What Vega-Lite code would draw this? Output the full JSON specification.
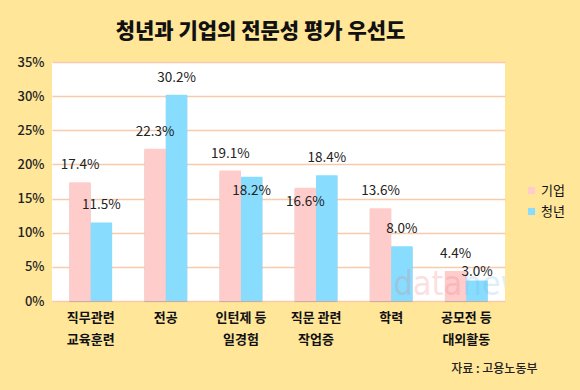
{
  "$schema": "https://vega.github.io/schema/vega-lite/v6.json",
  "width": 453,
  "height": 239,
  "autosize": "none",
  "padding": {"left": 52, "top": 62, "right": 75, "bottom": 89},
  "background": "#FFE699",
  "title": {
    "text": "청년과 기업의 전문성 평가 우선도",
    "font": "Noto Sans CJK KR",
    "fontSize": 21,
    "fontWeight": 900,
    "color": "#111111",
    "anchor": "middle",
    "dx": -18,
    "offset": 14
  },
  "config": {
    "view": {"fill": "#FFFFFF", "stroke": null},
    "font": "Noto Sans CJK KR"
  },
  "datasets": {
    "main": [
      {"category": "직무관련|교육훈련", "group": "기업", "value": 17.4},
      {"category": "직무관련|교육훈련", "group": "청년", "value": 11.5},
      {"category": "전공", "group": "기업", "value": 22.3},
      {"category": "전공", "group": "청년", "value": 30.2},
      {"category": "인턴제 등|일경험", "group": "기업", "value": 19.1},
      {"category": "인턴제 등|일경험", "group": "청년", "value": 18.2},
      {"category": "직문 관련|작업증", "group": "기업", "value": 16.6},
      {"category": "직문 관련|작업증", "group": "청년", "value": 18.4},
      {"category": "학력", "group": "기업", "value": 13.6},
      {"category": "학력", "group": "청년", "value": 8.0},
      {"category": "공모전 등|대외활동", "group": "기업", "value": 4.4},
      {"category": "공모전 등|대외활동", "group": "청년", "value": 3.0}
    ],
    "mark": [
      {"category": "공모전 등|대외활동", "part": "data", "value": 0},
      {"category": "공모전 등|대외활동", "part": "news", "value": 0}
    ]
  },
  "data": {"name": "main"},
  "encoding": {
    "x": {
      "field": "category",
      "type": "nominal",
      "sort": null,
      "scale": {"paddingInner": 0.43, "paddingOuter": 0.23},
      "axis": {
        "title": "자료 :  고용노동부",
        "titleFont": "Noto Sans CJK KR",
        "titleFontSize": 12,
        "titleFontWeight": 500,
        "titleColor": "#222222",
        "titleAnchor": "end",
        "titleAlign": "right",
        "titleBaseline": "middle",
        "titleX": 485,
        "titleY": 67,
        "labelAngle": 0,
        "labelExpr": "split(datum.label, '|')",
        "labelFont": "Noto Sans CJK KR",
        "labelFontSize": 13,
        "labelFontWeight": 700,
        "labelColor": "#111111",
        "labelLineHeight": 22,
        "labelPadding": 10,
        "labelBaseline": "top",
        "domain": false,
        "ticks": false,
        "grid": false
      }
    },
    "y": {
      "field": "value",
      "type": "quantitative",
      "scale": {"domain": [0, 35]},
      "axis": {
        "title": null,
        "values": [0, 5, 10, 15, 20, 25, 30, 35],
        "labelExpr": "datum.value + '%'",
        "labelFont": "Noto Sans CJK KR",
        "labelFontSize": 13,
        "labelFontWeight": 500,
        "labelColor": "#222222",
        "labelPadding": 8,
        "domain": false,
        "ticks": false,
        "grid": true,
        "gridColor": "#F8CBAD",
        "gridWidth": 1.5
      }
    }
  },
  "layer": [
    {
      "mark": {"type": "bar", "color": "#8C8C8C", "opacity": 0.45, "xOffset": 3, "yOffset": 1},
      "encoding": {
        "xOffset": {"field": "group", "type": "nominal", "sort": ["기업", "청년"], "scale": {"paddingInner": 0}}
      }
    },
    {
      "mark": {"type": "bar"},
      "encoding": {
        "xOffset": {"field": "group", "type": "nominal", "sort": ["기업", "청년"], "scale": {"paddingInner": 0}},
        "color": {
          "field": "group",
          "type": "nominal",
          "sort": ["기업", "청년"],
          "scale": {"domain": ["기업", "청년"], "range": ["#FFCCCC", "#88DDFF"]},
          "legend": {
            "title": null,
            "orient": "none",
            "legendX": 473,
            "legendY": 122,
            "symbolType": "square",
            "symbolSize": 50,
            "symbolStrokeWidth": 0,
            "labelFont": "Noto Sans CJK KR",
            "labelFontSize": 13,
            "labelColor": "#111111",
            "labelOffset": 3,
            "rowPadding": 7
          }
        }
      }
    },
    {
      "data": {"name": "mark"},
      "transform": [{"filter": "datum.part == 'data'"}],
      "mark": {"type": "text", "clip": true, "align": "right", "baseline": "alphabetic", "dx": -4, "dy": -6, "font": "DejaVu Sans Condensed, Liberation Sans Narrow, Noto Sans", "fontSize": 34, "fontWeight": 400, "color": "#E86A6A", "opacity": 0.2, "text": "data"},
      "encoding": {}
    },
    {
      "data": {"name": "mark"},
      "transform": [{"filter": "datum.part == 'news'"}],
      "mark": {"type": "text", "clip": true, "align": "left", "baseline": "alphabetic", "dx": -4, "dy": -6, "font": "DejaVu Sans Condensed, Liberation Sans Narrow, Noto Sans", "fontSize": 34, "fontWeight": 400, "color": "#6AAEE8", "opacity": 0.2, "text": "news"},
      "encoding": {}
    },
    {
      "transform": [{"filter": "datum.value != 18.2 && datum.value != 16.6 && datum.value != 3.0"}],
      "mark": {"type": "text", "dy": -17, "font": "Noto Sans CJK KR", "fontSize": 13.5, "color": "#222222", "text": {"expr": "format(datum.value, '.1f') + '%'"}},
      "encoding": {
        "xOffset": {"field": "group", "type": "nominal", "sort": ["기업", "청년"], "scale": {"paddingInner": 0}}
      }
    },
    {
      "transform": [{"filter": "datum.value == 18.2 || datum.value == 16.6"}],
      "mark": {"type": "text", "dy": 14, "font": "Noto Sans CJK KR", "fontSize": 13.5, "color": "#222222", "text": {"expr": "format(datum.value, '.1f') + '%'"}},
      "encoding": {
        "xOffset": {"field": "group", "type": "nominal", "sort": ["기업", "청년"], "scale": {"paddingInner": 0}}
      }
    },
    {
      "transform": [{"filter": "datum.value == 3.0"}],
      "mark": {"type": "text", "dy": -9, "font": "Noto Sans CJK KR", "fontSize": 13.5, "color": "#222222", "text": {"expr": "format(datum.value, '.1f') + '%'"}},
      "encoding": {
        "xOffset": {"field": "group", "type": "nominal", "sort": ["기업", "청년"], "scale": {"paddingInner": 0}}
      }
    }
  ]
}
